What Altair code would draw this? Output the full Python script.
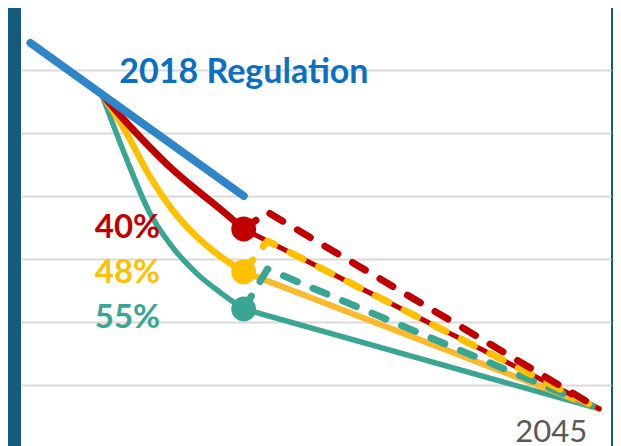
import altair as alt
import pandas as pd

# ---- data ----
reg_years = [2021, 2030]
reg_values = [128.6, 80.0]

curve_years = [2024, 2025, 2026, 2027, 2028, 2029, 2030]
red_curve = [112.4, 103.8, 95.8, 88.4, 82.0, 75.9, 69.5]
yellow_curve = [112.4, 100.7, 86.7, 75.5, 67.2, 60.9, 55.9]
teal_curve = [112.4, 92.8, 75.1, 63.7, 55.5, 49.4, 44.1]

solid_years = [2030, 2045]
red_solid = [69.5, 12.4]
yellow_solid = [55.9, 12.4]
teal_solid = [44.1, 12.4]

dash_years = [2030, 2031, 2045]
red_dash = [69.5, 74.9, 12.4]
yellow_dash = [55.9, 65.7, 12.4]
teal_dash = [44.1, 56.8, 12.4]

dot_years = [2030, 2030, 2030]
dot_values = [69.5, 55.9, 44.1]
dot_colors = ["#c00000", "#ffc000", "#3aa592"]

pct_labels = ["40%", "48%", "55%"]
pct_years = [2026.47, 2026.47, 2026.47]
pct_values = [66.7, 52.4, 38.1]
pct_colors = ["#c00000", "#ffc000", "#3aa592"]

reg_label = ["2018 Regulation"]
reg_label_year = [2024.75]
reg_label_value = [115.9]

end_label = ["2045"]
end_label_year = [2045]
end_label_value = [1.9]

grid_values = [20, 40, 60, 80, 100, 120]

BG = "#145a7c"
RED, YEL, TEAL, BLUE = "#c00000", "#ffc000", "#3aa592", "#2e86c9"

xs = alt.Scale(domain=[2020.6, 2045.5], nice=False, zero=False)
ys = alt.Scale(domain=[0.6, 139.7], nice=False, zero=False)
X = alt.X("year:Q", scale=xs, axis=None)
Y = alt.Y("value:Q", scale=ys,
          axis=alt.Axis(values=grid_values, grid=True, gridColor="#d9d9d9",
                        gridWidth=2, labels=False, ticks=False, domain=False,
                        title=None))


def df(years, values):
    return pd.DataFrame({"year": years, "value": values})


def line(years, values, color, width, dash=None, interp="linear"):
    kw = dict(color=color, strokeWidth=width, strokeCap="round",
              strokeJoin="round", interpolate=interp)
    if dash:
        kw["strokeDash"] = dash
    return alt.Chart(df(years, values)).mark_line(**kw).encode(x=X, y=Y)


layers = [
    line(solid_years, teal_solid, TEAL, 5.5),
    line(solid_years, yellow_solid, "#fbb92b", 6),
    line(solid_years, red_solid, RED, 5),
    line(dash_years, teal_dash, TEAL, 7, [15, 17]),
    line(dash_years, yellow_dash, YEL, 7, [15, 17]),
    line(dash_years, red_dash, RED, 7, [15, 17]),
    line(curve_years, teal_curve, TEAL, 5.5, interp="monotone"),
    line(curve_years, yellow_curve, YEL, 6.5, interp="monotone"),
    line(curve_years, red_curve, RED, 7, interp="monotone"),
    line(reg_years, reg_values, BLUE, 8),
]

dots = alt.Chart(pd.DataFrame({"year": dot_years, "value": dot_values,
                               "c": dot_colors})).mark_point(
    filled=True, size=620, opacity=1, shape="circle").encode(
    x=X, y=Y, color=alt.Color("c:N", scale=None))

pct = alt.Chart(pd.DataFrame({"year": pct_years, "value": pct_values,
                              "t": pct_labels, "c": pct_colors})).mark_text(
    font="Lato", fontWeight="bold", fontSize=33, align="right",
    baseline="alphabetic").encode(x=X, y=Y, text="t:N",
                                  color=alt.Color("c:N", scale=None))

reg = alt.Chart(pd.DataFrame({"year": reg_label_year, "value": reg_label_value,
                              "t": reg_label})).mark_text(
    font="Lato", fontWeight="bold", fontSize=34, align="left",
    baseline="alphabetic", color="#0b70c1").encode(x=X, y=Y, text="t:N")

end = alt.Chart(pd.DataFrame({"year": end_label_year, "value": end_label_value,
                              "t": end_label})).mark_text(
    font="Lato", fontSize=31, align="right", baseline="alphabetic",
    color="#595959", dx=-12).encode(x=X, y=Y, text="t:N")

chart = alt.layer(*layers, dots, pct, reg, end).properties(
    width=590, height=438,
    autosize=alt.AutoSizeParams(type="none"),
    padding={"left": 13, "top": 0, "right": 2, "bottom": 0},
    background=BG,
).configure_view(fill="white", stroke=None)

chart.save("out.html", embed_options={"renderer": "svg", "actions": False})
